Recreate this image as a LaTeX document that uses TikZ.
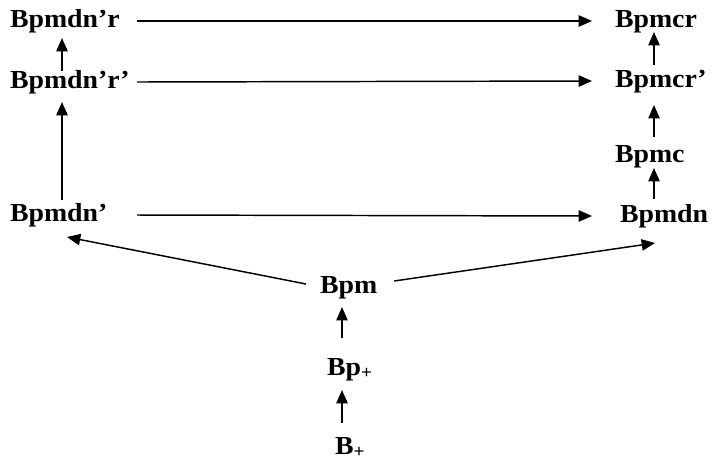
\documentclass[tikz,border=0pt]{standalone}
\usepackage{fontspec}
\setmainfont{Liberation Serif}[FakeStretch=1.07]
\usetikzlibrary{arrows.meta}
\newcommand\subplus{\raisebox{-2.5pt}{\fontsize{13.5pt}{14pt}\selectfont +}}
\begin{document}
\begin{tikzpicture}[x=0.75pt,y=-0.75pt,
  lbl/.style={font=\bfseries\fontsize{19.5pt}{22pt}\selectfont, inner sep=0pt, outer sep=0pt,
    text height=12.75pt, text depth=3.75pt, anchor=base west},
  arr/.style={-{Triangle[length=10pt,width=8.5pt]}, line width=1.1pt}]
\useasboundingbox (0,0) rectangle (714,462);
% labels
\node[lbl] (a1) at (10,27)  {Bpmdn’r};
\node[lbl] (a2) at (10,88)  {Bpmdn’r’};
\node[lbl] (a3) at (10,221) {Bpmdn’};
\node[lbl] (c1) at (615,27)  {Bpmcr};
\node[lbl] (c2) at (615,87)  {Bpmcr’};
\node[lbl] (c3) at (615,162) {Bpmc};
\node[lbl] (c4) at (620,222) {Bpmdn};
\node[lbl] (m1) at (320,293) {Bpm};
\node[lbl] (m2) at (327,375) {Bp\subplus};
\node[lbl] (m3) at (335,454) {B\subplus};
% guide coordinates
\coordinate (L)  at (137,0);
\coordinate (R)  at (592,0);
\coordinate (LX) at (62,0);
\coordinate (RX) at (654,0);
\coordinate (MX) at (342,0);
\coordinate (dl) at (67,237);
\coordinate (dr) at (655,243);
% horizontal arrows
\draw[arr] (a1 -| L) -- (c1 -| R);
\draw[arr] (a2 -| L) -- (c2 -| R);
\draw[arr] (a3 -| L) -- (c4 -| R);
% left column
\draw[arr, shorten >=4.5pt] (a2.north -| LX) -- (a1.south -| LX);
\draw[arr, shorten <=3pt, shorten >=6.75pt] (a3.north -| LX) -- (a2.south -| LX);
% right column
\draw[arr, shorten <=3.75pt] (c2.north -| RX) -- (c1.south -| RX);
\draw[arr, shorten <=6pt, shorten >=9.75pt] (c3.north -| RX) -- (c2.south -| RX);
\draw[arr, shorten <=4.5pt, shorten >=0.75pt] (c4.north -| RX) -- (c3.south -| RX);
% middle column
\draw[arr, shorten <=15pt, shorten >=6.75pt] (m2.north -| MX) -- (m1.south -| MX);
\draw[arr, shorten <=10.5pt, shorten >=7.5pt] (m3.north -| MX) -- (m2.south -| MX);
% diagonals
\draw[arr] ([shift={(-14,-3)}]m1.west) -- (dl);
\draw[arr] ([shift={(17,-6)}]m1.east) -- (dr);
\end{tikzpicture}
\end{document}
